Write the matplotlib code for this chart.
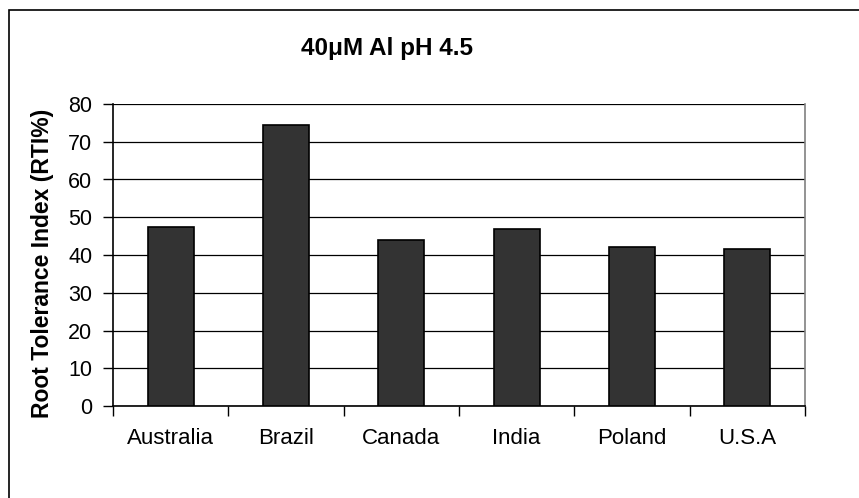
import matplotlib.pyplot as plt
import numpy as np
from matplotlib.patches import Rectangle

plt.rcParams['font.family'] = ['Liberation Sans', 'DejaVu Sans']

countries = ['Australia', 'Brazil', 'Canada', 'India', 'Poland', 'U.S.A']
rti = [47.4, 74.4, 44.0, 46.8, 42.1, 41.7]
y_ticks = [0, 10, 20, 30, 40, 50, 60, 70, 80]


def main():
    fig = plt.figure(figsize=(8.59, 4.98), dpi=100)

    # chart frame (only its top and left edges fall inside the image)
    frame = Rectangle((9 / 859, -0.05), 1.2, 1.05 - 10 / 498,
                      transform=fig.transFigure, facecolor='none',
                      edgecolor='black', linewidth=1.2)
    fig.patches.append(frame)

    ax = fig.add_axes([113 / 859, 92 / 498, 692 / 859, 302 / 498])
    x = np.arange(len(countries))
    ax.bar(x, rti, width=0.4, color='#333333', edgecolor='black',
           linewidth=1.2, zorder=3)

    ax.set_xlim(-0.5, len(countries) - 0.5)
    ax.set_ylim(0, 80)
    ax.set_yticks(y_ticks)
    ax.yaxis.grid(True, color='black', linewidth=0.9, zorder=0)

    # category ticks sit between the bars
    ax.set_xticks(np.arange(len(countries) + 1) - 0.5)
    ax.set_xticklabels([])
    ax.set_xticks(x, minor=True)
    ax.set_xticklabels(countries, minor=True, fontsize=16)
    ax.tick_params(axis='x', which='minor', length=0, pad=16)
    ax.tick_params(axis='x', which='major', length=7, width=1, direction='out')
    ax.tick_params(axis='y', length=7, width=1, labelsize=15.5, pad=8)

    ax.spines['top'].set_visible(False)
    ax.spines['right'].set_color('#808080')
    ax.spines['right'].set_linewidth(1.2)
    ax.spines['left'].set_linewidth(1.2)
    ax.spines['bottom'].set_linewidth(1.2)

    fig.text(43 / 859, 1 - 263 / 498, 'Root Tolerance Index (RTI%)',
             rotation=90, ha='center', va='center', fontsize=16.5,
             fontweight='bold')
    fig.text(387 / 859, 1 - 48 / 498, '40μM Al pH 4.5', ha='center',
             va='center', fontsize=17.5, fontweight='bold')

    fig.savefig('out.png', dpi=100)


if __name__ == '__main__':
    main()
